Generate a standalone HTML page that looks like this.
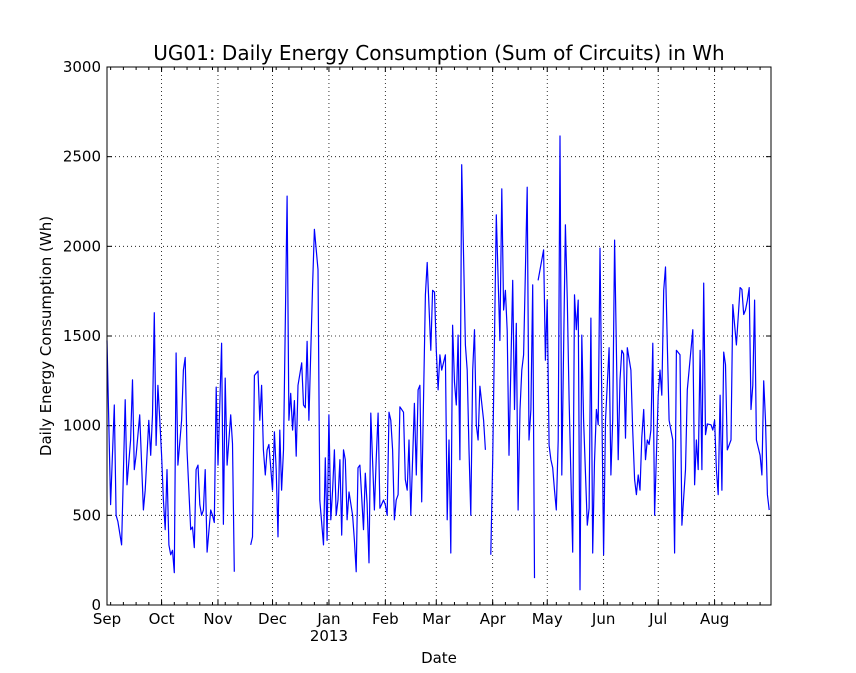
<!DOCTYPE html>
<html><head><meta charset="utf-8"><style>
body{margin:0;background:#fff;}
svg{display:block;font-family:"DejaVu Sans","Liberation Sans",sans-serif;}
</style></head><body>
<svg id="chart" width="856" height="673"></svg>
<script>
const monthLabels=["Sep","Oct","Nov","Dec","Jan","Feb","Mar","Apr","May","Jun","Jul","Aug"];
const monthDays=[0,30,61,91,122,153,181,212,242,273,303,334];
const yTicks=[0,500,1000,1500,2000,2500,3000];
const days=[0,2,4,5,6,8,10,11,13,14,15,16,18,20,21,23,24,25,26,27,28,29,30,31,32,33,34,35,36,37,38,39,41,42,43,44,46,47,48,49,50,51,52,53,54,55,57,58,59,60,61,63,64,65,66,68,69,70,71,
79,80,81,83,84,85,86,87,88,89,91,92,93,94,95,96,97,99,100,101,102,103,104,105,107,108,109,110,111,113,114,116,117,119,120,121,122,123,124,125,126,127,128,129,130,131,132,133,135,136,137,138,139,141,142,143,144,145,147,148,149,150,152,153,154,155,156,157,158,159,160,161,163,164,165,166,167,169,170,171,172,173,175,176,178,179,180,181,182,183,184,186,187,188,189,190,191,192,193,194,195,197,198,199,200,201,202,203,204,205,207,208,210,211,
212,214,216,217,218,219,220,221,223,224,225,226,227,228,229,231,232,233,234,235,236,237,
240,241,242,243,244,245,246,247,248,249,250,252,253,254,256,257,258,259,260,261,262,264,265,266,267,268,269,270,271,273,274,276,277,278,279,281,282,283,284,285,286,288,289,290,291,292,293,294,295,296,297,298,299,300,301,303,304,305,306,307,309,310,311,312,313,315,316,318,319,320,322,323,324,325,326,327,328,329,330,332,333,334,335,336,337,338,339,340,341,343,344,346,348,349,350,351,352,353,354,355,356,357,359,360,361,362,363,364,365];
const values=[1475,560,1115,500,465,335,1145,670,920,1255,755,835,1060,530,640,1030,835,1060,1630,890,1225,1030,835,585,420,755,335,280,305,180,1405,780,1030,1310,1380,865,420,435,320,755,780,560,500,530,755,295,530,500,460,1215,780,1460,450,1265,780,1060,900,185,null,
335,380,1280,1305,1030,1225,865,725,865,895,640,965,755,380,975,640,865,2280,1030,1180,975,1140,830,1225,1350,1115,1100,1470,1030,1785,2095,1870,585,335,820,360,1060,475,640,865,500,585,810,390,865,810,475,630,500,360,185,765,780,420,735,565,235,1070,530,810,1070,540,585,560,500,1075,1030,865,475,585,615,1105,1075,700,640,920,500,1125,725,1200,1225,575,1730,1910,1420,1755,1745,1420,1200,1395,1310,1395,475,920,290,1560,1240,1115,1505,810,2455,1450,1310,865,500,1310,1535,1005,920,1220,1030,865,null,
280,810,2175,1475,2320,1645,1755,1530,835,1810,1090,1570,530,1090,1310,1395,2330,920,1090,1785,150,null,
1810,1980,1365,1700,890,810,765,640,530,920,2615,725,2120,1700,1145,295,1730,1535,1700,85,1505,1030,445,540,1600,290,800,1090,1005,1990,280,1030,1435,725,1030,2035,810,1255,1420,1400,930,1435,1310,975,700,615,725,640,935,1090,810,920,895,975,1460,500,1170,1310,1170,1755,1885,1030,975,920,290,1420,1395,445,755,1200,1310,1535,670,920,755,1420,755,1795,950,1010,1005,975,1030,755,615,1170,640,1410,1340,865,920,1675,1450,1770,1760,1620,1645,1700,1770,1090,1225,1700,920,835,725,1250,1030,615,530];

const svg=document.getElementById('chart');
const NS='http://www.w3.org/2000/svg';
const L=107,R=771,T=67,B=605;
const xs=d=>L+(d/365)*(R-L);
const ys=v=>B-(v/3000)*(B-T);
function mk(tag,attrs,parent){const e=document.createElementNS(NS,tag);for(const k in attrs)e.setAttribute(k,attrs[k]);(parent||svg).appendChild(e);return e;}

const bg=mk('rect',{x:L,y:T,width:R-L,height:B-T,fill:'#fff'});



yTicks.forEach(v=>{
  const g=mk('line',{x1:L,x2:R,y1:ys(v),y2:ys(v),stroke:'#000','stroke-width':0.8,'stroke-dasharray':'1,3'});
  
  
  const t=mk('line',{x1:L,x2:L+5,y1:ys(v),y2:ys(v),stroke:'#000'});
  
  
  mk('line',{x1:R-5,x2:R,y1:ys(v),y2:ys(v),stroke:'#000'});
  const lb=mk('text',{x:L-6,y:ys(v)+5,'text-anchor':'end','font-size':15});
  lb.textContent=v;
  
  
});
monthDays.forEach((d,i)=>{
  const x=xs(d);
  const g=mk('line',{x1:x,x2:x,y1:T,y2:B,stroke:'#000','stroke-width':0.8,'stroke-dasharray':'1,3'});
  
  
  mk('line',{x1:x,x2:x,y1:B-5,y2:B,stroke:'#000'});
  mk('line',{x1:x,x2:x,y1:T,y2:T+5,stroke:'#000'});
  const lb=mk('text',{x:x,y:B+19,'text-anchor':'middle','font-size':15});
  lb.textContent=monthLabels[i];
  
  
});
for(let d=2;d<365;d+=7){
  const x=xs(d);
  mk('line',{x1:x,x2:x,y1:B-3,y2:B,stroke:'#000'});
  mk('line',{x1:x,x2:x,y1:T,y2:T+3,stroke:'#000'});
}
const yr=mk('text',{x:xs(122),y:B+36,'text-anchor':'middle','font-size':15});
yr.textContent='2013';



let segs=[],cur=[];
days.forEach((d,i)=>{const v=values[i];if(v==null){if(cur.length)segs.push(cur);cur=[];}else cur.push(xs(d).toFixed(1)+','+ys(v).toFixed(1));});
if(cur.length)segs.push(cur);
const p=mk('path',{d:segs.map(s=>'M'+s.join('L')).join(''),fill:'none',stroke:'#0000ff','stroke-width':1.2,'stroke-linejoin':'round'});



const fr=mk('rect',{x:L,y:T,width:R-L,height:B-T,fill:'none',stroke:'#000','stroke-width':1});



const ti=mk('text',{x:(L+R)/2,y:60,'text-anchor':'middle','font-size':20});
ti.textContent='UG01: Daily Energy Consumption (Sum of Circuits) in Wh';


const xl=mk('text',{x:(L+R)/2,y:663,'text-anchor':'middle','font-size':15});
xl.textContent='Date';


const yl=mk('text',{x:0,y:0,'text-anchor':'middle','font-size':15,transform:'translate(51,'+((T+B)/2)+') rotate(-90)'});
yl.textContent='Daily Energy Consumption (Wh)';


</script>
</body></html>
